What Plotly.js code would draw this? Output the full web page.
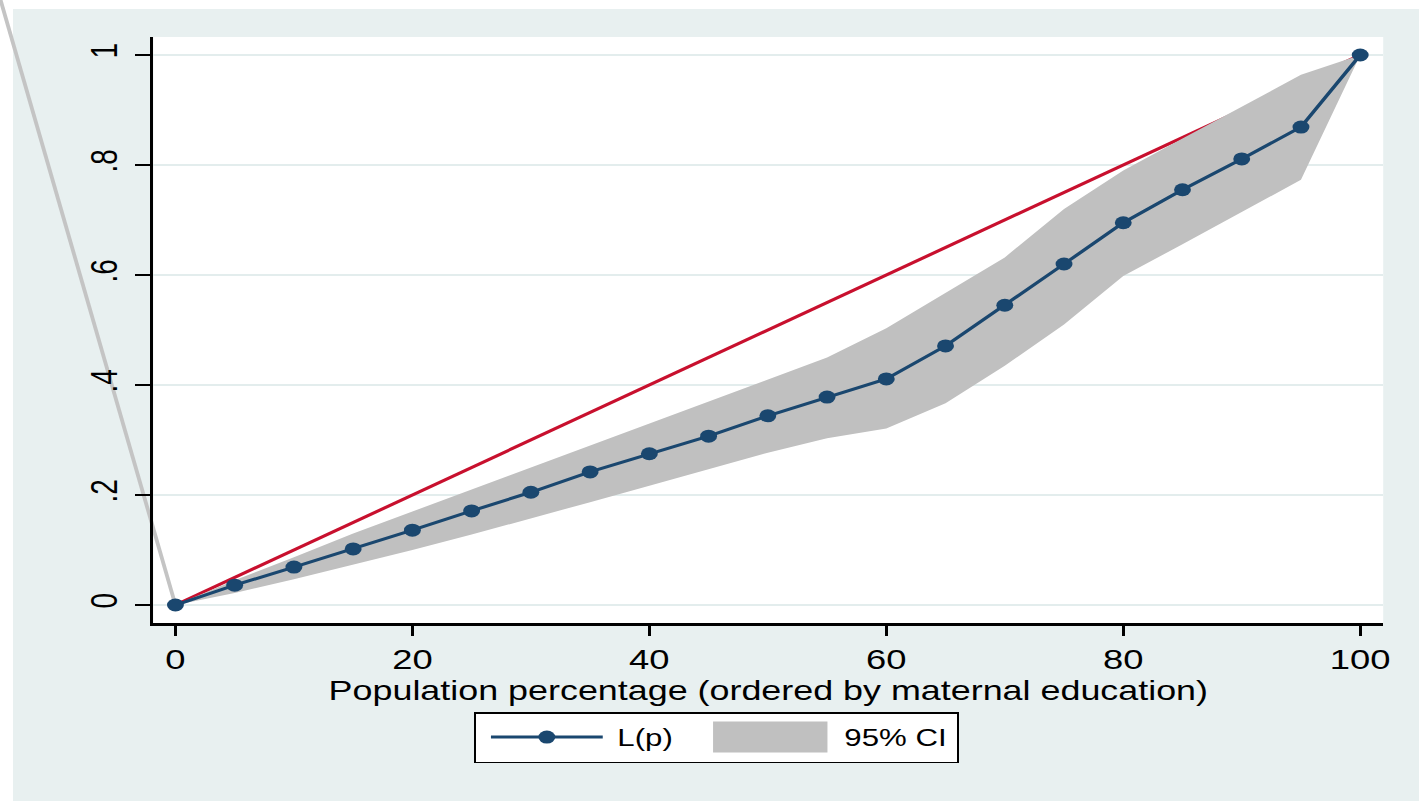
<!DOCTYPE html>
<html><head><meta charset="utf-8">
<script src="https://cdn.plot.ly/plotly-3.0.1.min.js"></script>
<style>
html,body{margin:0;padding:0;background:#ffffff;width:1419px;height:801px;overflow:hidden;}
#bg{position:absolute;left:13px;top:9px;width:1406px;height:792px;background:#e8f0f0;}
#chart{position:absolute;left:0;top:0;width:1091.54px;height:801px;transform:scaleX(1.3);transform-origin:0 0;}
</style></head><body><div id="bg"></div><div id="chart"></div>
<script>
// Population percentage (ordered by maternal education)
const pct = [0,5,10,15,20,25,30,35,40,45,50,55,60,65,70,75,80,85,90,95,100];
// Concentration curve L(p)
const lp = [0,0.036,0.069,0.102,0.136,0.171,0.205,0.242,0.275,0.307,0.344,0.378,0.411,0.471,0.545,0.620,0.695,0.755,0.811,0.869,1.0];
// 95% confidence band
const ciLower = [0,0.022,0.047,0.073,0.100,0.128,0.157,0.187,0.217,0.247,0.277,0.303,0.321,0.367,0.435,0.510,0.598,0.656,0.715,0.773,1.0];
const ciUpper = [0,0.045,0.087,0.130,0.170,0.210,0.250,0.290,0.330,0.370,0.410,0.450,0.503,0.567,0.632,0.720,0.790,0.848,0.906,0.964,1.0];
// Line of equality
const eqX = [0,100];
const eqY = [0,1];
// Axis ticks
const xTicks = [0,20,40,60,80,100];
const yTicks = [0,0.2,0.4,0.6,0.8,1];
const yTickText = ['0','.2','.4','.6','.8','1'];
// stray gray line (from origin out of the plot)
const strayX = [0,-15.5];
const strayY = [0,1.155];

const xr = [-1.86,101.94];
const yr = [-0.0327,1.0327];
const px = v => (v - xr[0])/(xr[1]-xr[0]);
const py = v => (v - yr[0])/(yr[1]-yr[0]);

const navy = '#1a476f';
const band = '#c0c0c0';
const traces = [
  {x:eqX, y:eqY, mode:'lines', line:{color:'#c8102e', width:3}, showlegend:false, hoverinfo:'skip'},
  {x:pct, y:ciLower, mode:'lines', line:{width:0, color:band}, showlegend:false, hoverinfo:'skip'},
  {x:pct, y:ciUpper, mode:'lines', line:{width:0, color:band}, fill:'tonexty', fillcolor:band, name:'95% CI', legendrank:2},
  {x:pct, y:lp, mode:'lines+markers', line:{color:navy, width:3}, marker:{color:navy, size:13}, name:'L(p)', legendrank:1}
];

const BW = 1.5, ITEMW = 98.5;
const font = {family:'"Liberation Sans", Arial, sans-serif', color:'#000'};
const layout = {
  width:1091.54, height:801,
  margin:{l:117.7, r:27.7, t:37, b:178},
  paper_bgcolor:'rgba(0,0,0,0)', plot_bgcolor:'#ffffff',
  font:Object.assign({size:28}, font),
  showlegend:true,
  xaxis:{range:xr, tickvals:xTicks, ticks:'outside', ticklen:10, tickwidth:2, tickcolor:'#000',
    showline:true, linecolor:'#000', linewidth:2.5, showgrid:false, zeroline:false,
    tickfont:Object.assign({size:28}, font),
    title:{text:'Population percentage (ordered by maternal education)', font:Object.assign({size:27.6}, font), standoff:6}},
  yaxis:{range:yr, tickvals:yTicks, ticktext:yTickText, tickangle:-90, ticks:'outside', ticklen:11.5, tickwidth:2, tickcolor:'#000',
    showline:true, linecolor:'#000', linewidth:2.3, showgrid:true, gridcolor:'#e3eded', gridwidth:2, zeroline:false,
    ticklabelstandoff:3, tickfont:Object.assign({size:28}, font)},
  legend:{orientation:'h', traceorder:'normal', x:0.2610, xanchor:'left', y:-0.1519, yanchor:'top', bgcolor:'#ffffff',
    bordercolor:'#000', borderwidth:BW, font:Object.assign({size:24}, font), itemwidth:ITEMW,
    entrywidth:76, entrywidthmode:'pixels'},
  shapes:[{type:'line', xref:'paper', yref:'paper', layer:'below',
    x0:px(strayX[0]), y0:py(strayY[0]), x1:px(strayX[1]), y1:py(strayY[1]),
    line:{color:'#c4c4c4', width:3}}]
};
Plotly.newPlot('chart', traces, layout, {displayModeBar:false, staticPlot:true}).then(gd => {
  const bg = gd.querySelector('.legend rect.bg');
  let shiftY = 0;
  if (bg) {
    const origH = parseFloat(bg.getAttribute('height')) + BW;
    shiftY = (51 - origH) / 2;
    bg.setAttribute('width', 373 - BW);
    bg.setAttribute('height', 51 - BW);
  }
  gd.querySelectorAll('.legend .traces').forEach(g => {
    const t = g.querySelector('text.legendtext');
    const m = /translate\(\s*([-\d.e]+)[ ,]+([-\d.e]+)\s*\)/.exec(g.getAttribute('transform') || '');
    let tx = m ? parseFloat(m[1]) : BW, ty = m ? parseFloat(m[2]) : 0;
    ty += shiftY;
    if (t && t.textContent === '95% CI') {
      tx = 176.1;
      g.querySelectorAll('.legendfill path').forEach(p => {
        p.setAttribute('d', 'M7.5,-15.5h88v31h-88z');
        p.style.fill = band; p.style.fillOpacity = 1;
      });
      g.querySelectorAll('.legendlines path').forEach(p => { p.style.strokeWidth = 0; });
    } else {
      g.querySelectorAll('.legendlines path').forEach(p => { p.setAttribute('d', 'M' + (ITEMW/2 + 5 - 43) + ',0h86'); });
    }
    g.setAttribute('transform', 'translate(' + tx + ',' + ty + ')');
  });
});
</script></body></html>
